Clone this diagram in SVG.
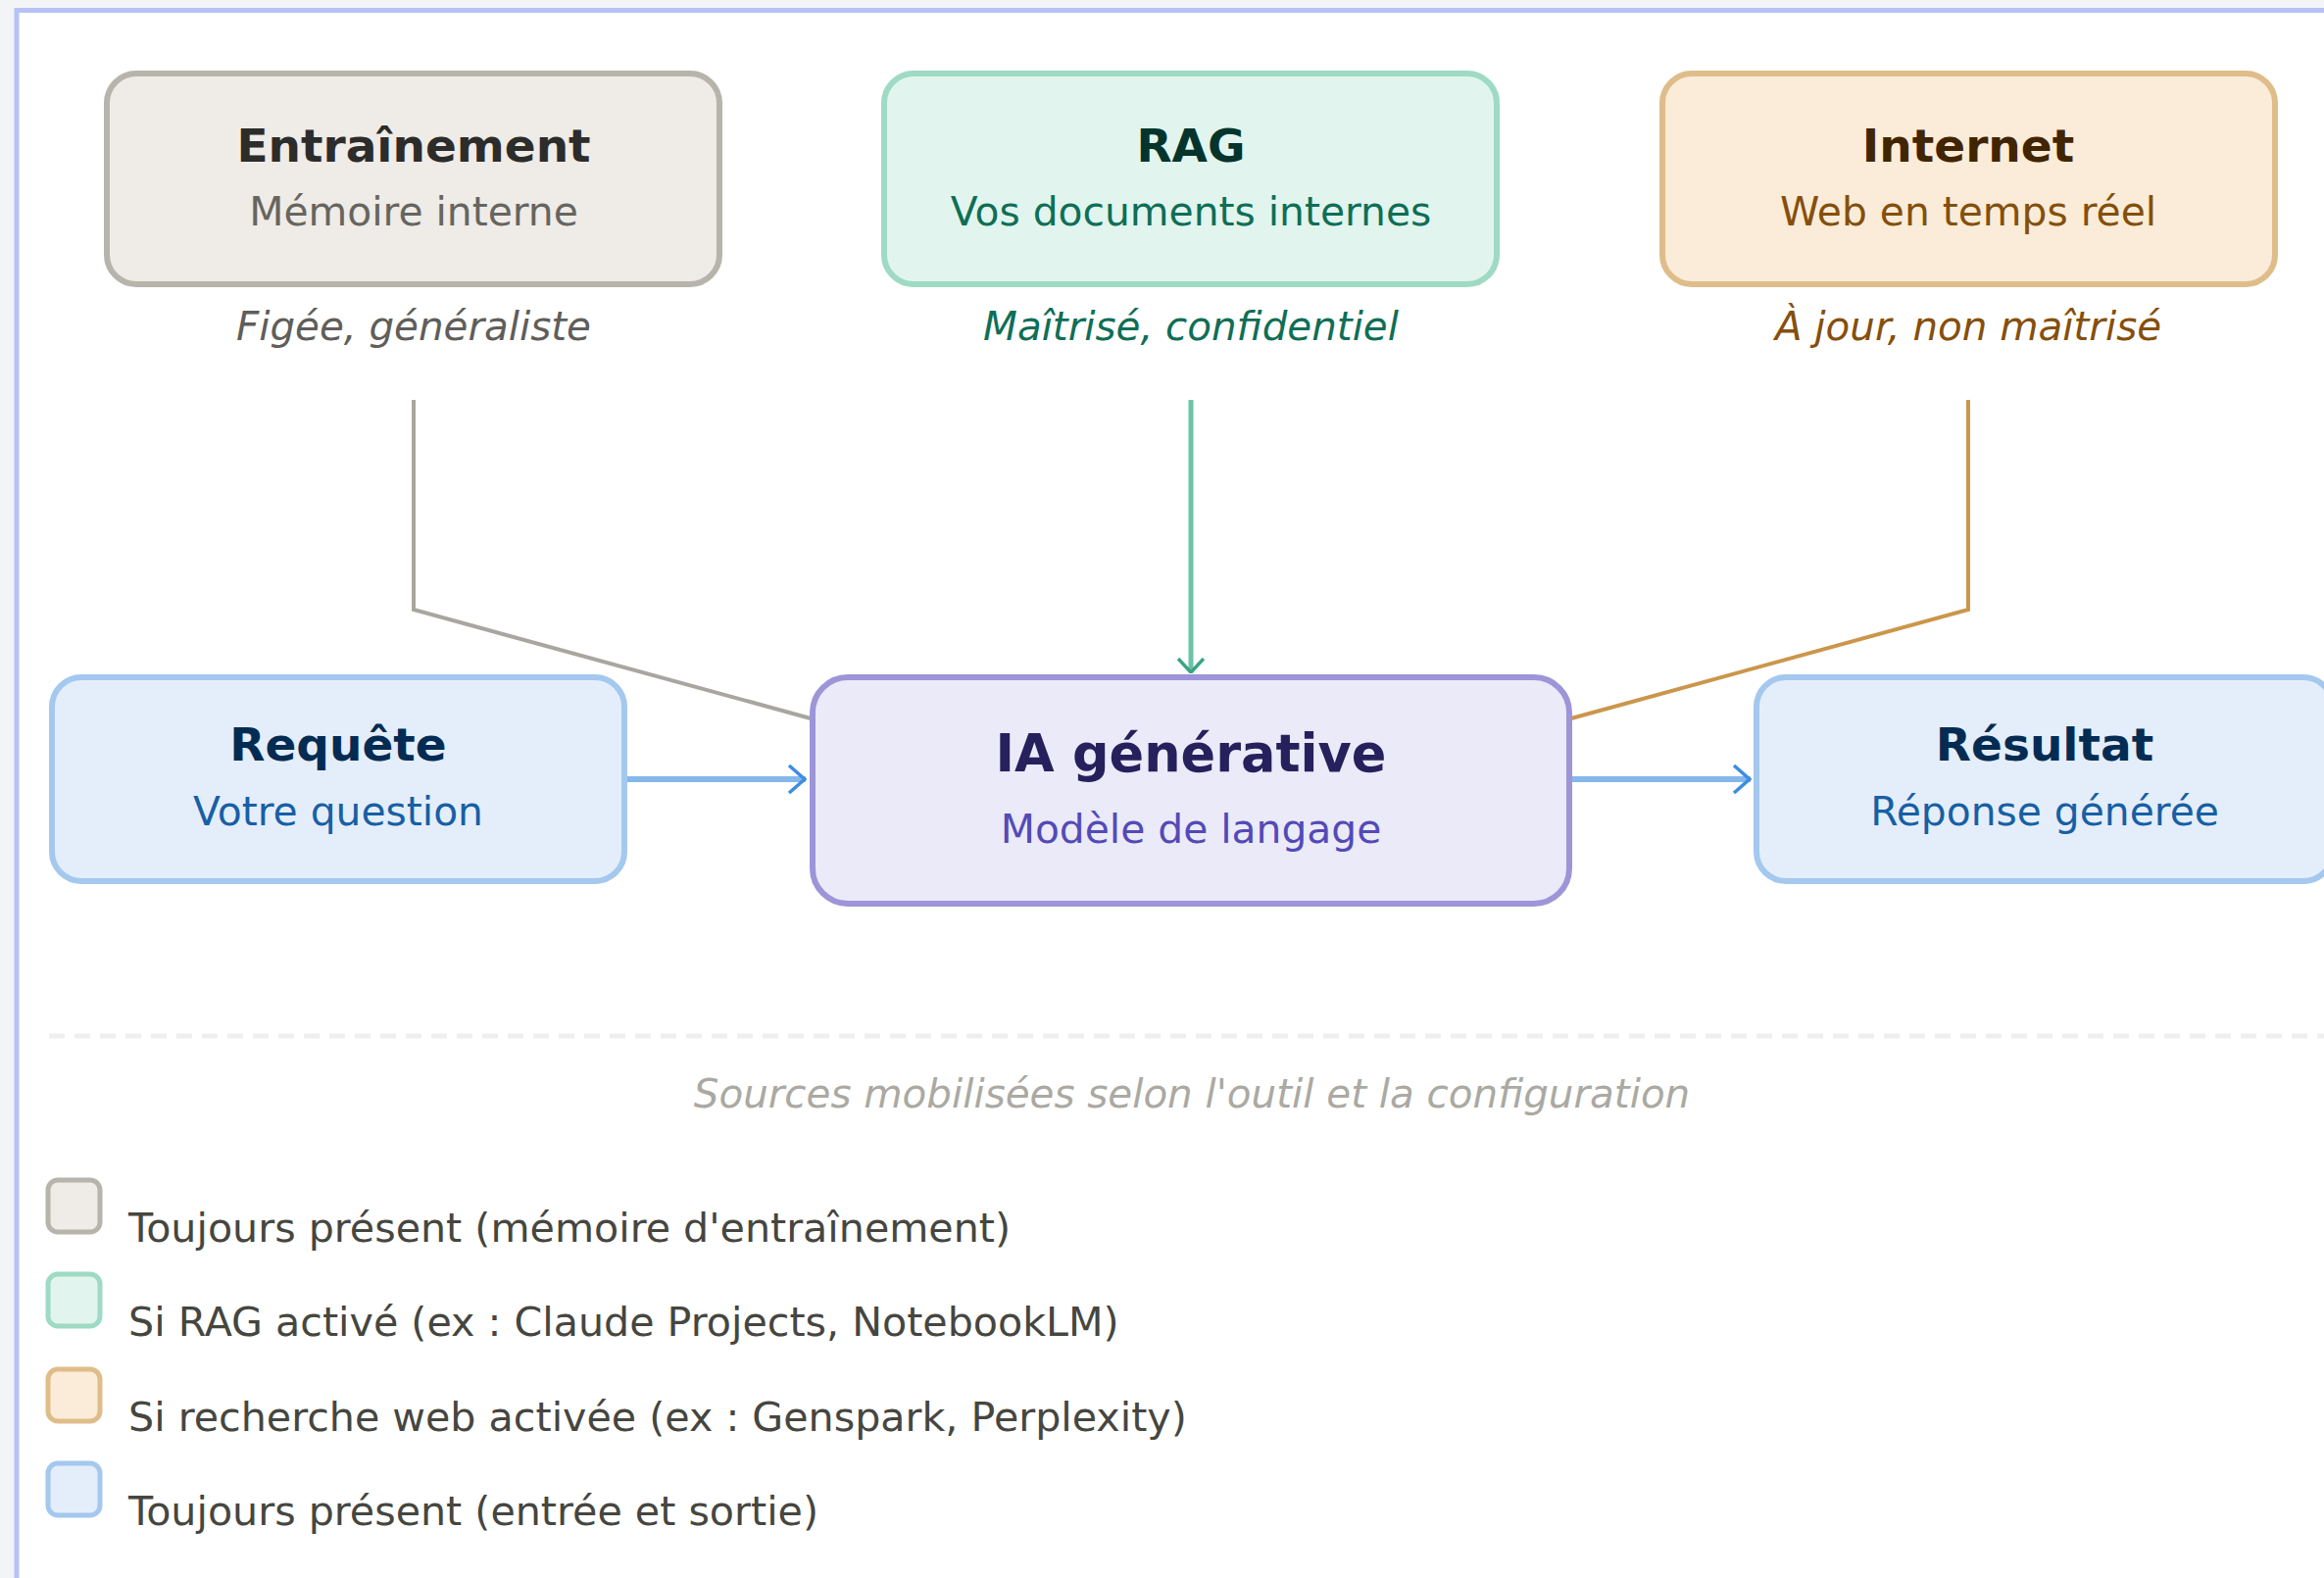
<svg xmlns="http://www.w3.org/2000/svg" width="2371" height="1610" viewBox="0 0 2371 1610">
  <style>
    text { font-family: "DejaVu Sans", Verdana, sans-serif; }
    .t { font-size: 47px; font-weight: bold; text-anchor: middle; }
    .s { font-size: 40.8px; text-anchor: middle; }
    .n { font-size: 40.4px; font-style: italic; text-anchor: middle; }
    .lg { font-size: 41.2px; fill: #46463f; }
    .box { stroke-width: 6; }
    .gray { fill: #efebe7; stroke: #b6b4ab; }
    .teal { fill: #e1f5ee; stroke: #9edac4; }
    .amber { fill: #faecd8; stroke: #dfbd8a; }
    .blue { fill: #e4eefa; stroke: #a4c8ee; }
    .purple { fill: #ebeaf9; stroke: #9d95d8; }
    .conn { fill: none; stroke-linejoin: miter; }
  </style>
  <defs>
    <marker id="arrBlue" viewBox="0 0 20 30" refX="19" refY="15" markerWidth="20" markerHeight="30" markerUnits="userSpaceOnUse" orient="auto">
      <path d="M2,1 L18,15 L2,29" fill="none" stroke="#3d8de0" stroke-width="3.5"/>
    </marker>
    <marker id="arrTeal" viewBox="0 0 16 28" refX="15" refY="14" markerWidth="16" markerHeight="28" markerUnits="userSpaceOnUse" orient="auto">
      <path d="M1,1 L15,14 L1,27" fill="none" stroke="#3aa581" stroke-width="3.5"/>
    </marker>
  </defs>

  <rect x="0" y="0" width="2371" height="1610" fill="#f3f4f6"/>
  <rect x="17" y="10.5" width="2420" height="1700" fill="#ffffff" stroke="#b6c2f5" stroke-width="5"/>

  <g id="connectors">
    <path class="conn" d="M422,408 L422,622 L827,733" stroke="#a8a69e" stroke-width="4"/>
    <path class="conn" d="M1215,408 L1215,686" stroke="#6cc4a4" stroke-width="5" marker-end="url(#arrTeal)"/>
    <path class="conn" d="M2008,408 L2008,622 L1603,733" stroke="#cb964b" stroke-width="4"/>
    <path class="conn" d="M640,795 L822,795" stroke="#85b7eb" stroke-width="6" marker-end="url(#arrBlue)"/>
    <path class="conn" d="M1604,795 L1786,795" stroke="#85b7eb" stroke-width="6" marker-end="url(#arrBlue)"/>
  </g>

  <g id="entrainement">
    <rect class="box gray" x="109" y="75" width="625" height="215" rx="30"/>
    <text class="t" x="422" y="165" fill="#2c2c2a">Entraînement</text>
    <text class="s" x="422" y="230" fill="#66655f">Mémoire interne</text>
    <text class="n" x="422" y="347" fill="#5f5e5a">Figée, généraliste</text>
  </g>

  <g id="rag">
    <rect class="box teal" x="902" y="75" width="625" height="215" rx="30"/>
    <text class="t" x="1215" y="165" fill="#04342c">RAG</text>
    <text class="s" x="1215" y="230" fill="#0f6e56">Vos documents internes</text>
    <text class="n" x="1215" y="347" fill="#0f6e56">Maîtrisé, confidentiel</text>
  </g>

  <g id="internet">
    <rect class="box amber" x="1696" y="75" width="625" height="215" rx="30"/>
    <text class="t" x="2008" y="165" fill="#412402">Internet</text>
    <text class="s" x="2008" y="230" fill="#854f0b">Web en temps réel</text>
    <text class="n" x="2008" y="347" fill="#854f0b">À jour, non maîtrisé</text>
  </g>

  <g id="requete">
    <rect class="box blue" x="53" y="691" width="584" height="208" rx="30"/>
    <text class="t" x="345" y="776" fill="#042c53">Requête</text>
    <text class="s" x="345" y="842" fill="#185fa5">Votre question</text>
  </g>

  <g id="ia">
    <rect class="box purple" x="829" y="691" width="772" height="231" rx="36"/>
    <text class="t" x="1215" y="787" fill="#26215c" style="font-size:52.5px">IA générative</text>
    <text class="s" x="1215" y="860" fill="#534ab7">Modèle de langage</text>
  </g>

  <g id="resultat">
    <rect class="box blue" x="1792" y="691" width="588" height="208" rx="30"/>
    <text class="t" x="2086" y="776" fill="#042c53">Résultat</text>
    <text class="s" x="2086" y="842" fill="#185fa5">Réponse générée</text>
  </g>

  <g id="legend">
    <line x1="50" y1="1057" x2="2371" y2="1057" stroke="#efefef" stroke-width="5" stroke-dasharray="16 10"/>
    <text class="n" x="1216" y="1130" fill="#aaa9a2">Sources mobilisées selon l'outil et la configuration</text>
    <rect class="gray" x="49" y="1204" width="53" height="53" rx="10" stroke-width="5"/>
    <text class="lg" x="131" y="1267">Toujours présent (mémoire d'entraînement)</text>
    <rect class="teal" x="49" y="1300" width="53" height="53" rx="10" stroke-width="5"/>
    <text class="lg" x="131" y="1363">Si RAG activé (ex : Claude Projects, NotebookLM)</text>
    <rect class="amber" x="49" y="1397" width="53" height="53" rx="10" stroke-width="5"/>
    <text class="lg" x="131" y="1460">Si recherche web activée (ex : Genspark, Perplexity)</text>
    <rect class="blue" x="49" y="1493" width="53" height="53" rx="10" stroke-width="5"/>
    <text class="lg" x="131" y="1556">Toujours présent (entrée et sortie)</text>
  </g>
</svg>
